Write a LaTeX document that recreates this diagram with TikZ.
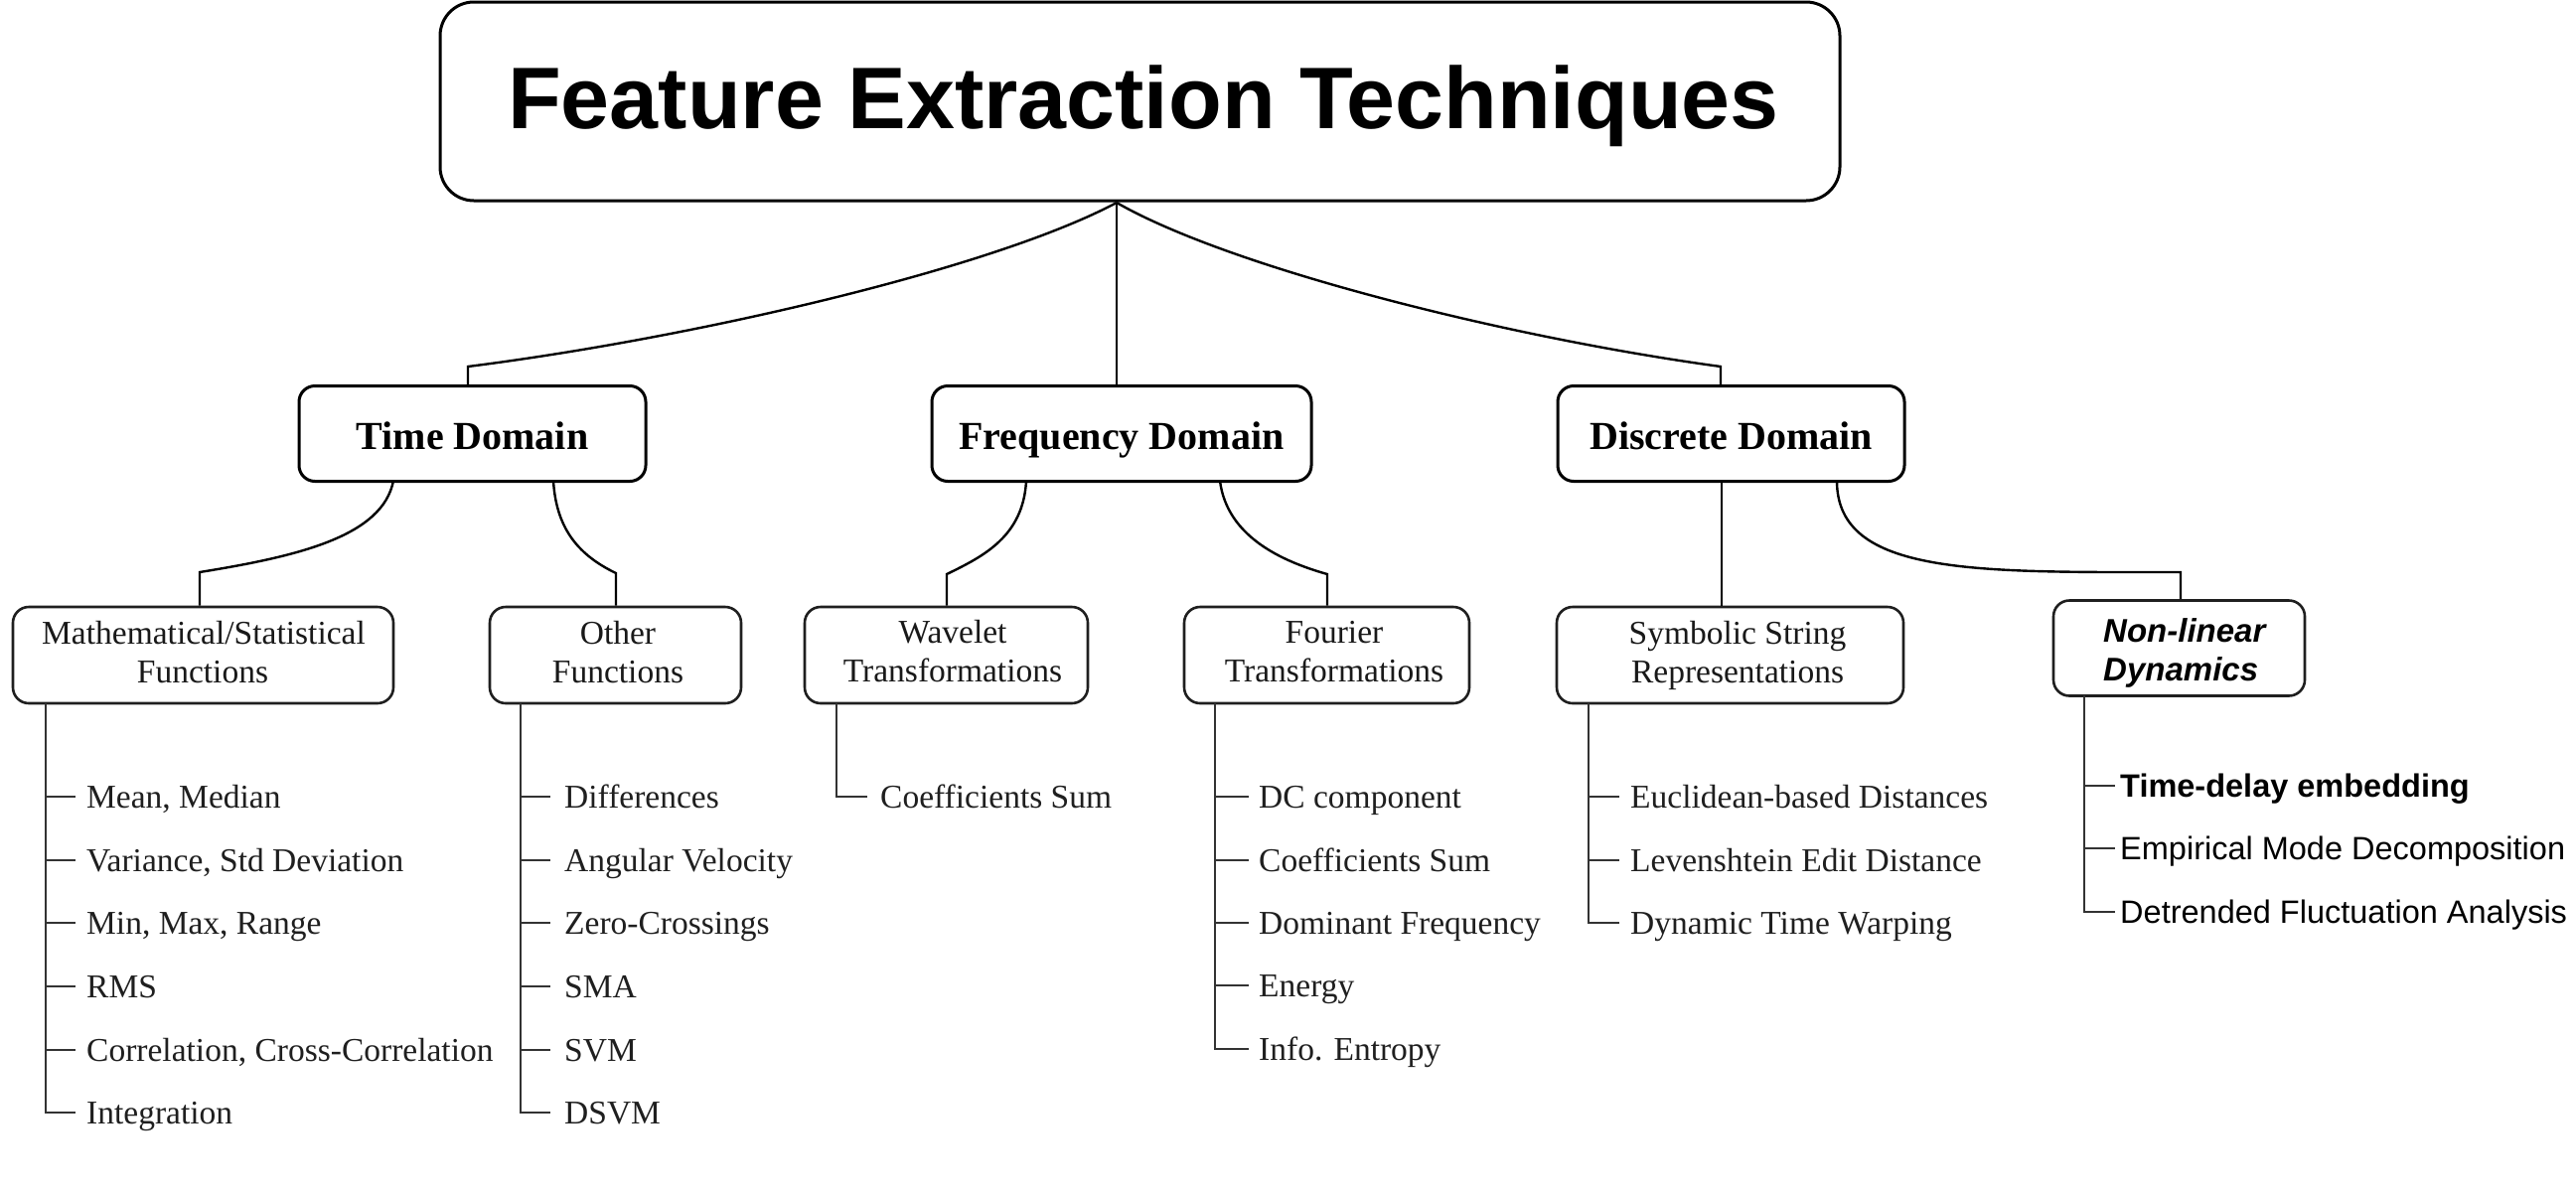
\documentclass[tikz,border=0pt]{standalone}
\usepackage{fontspec}
\setmainfont{Liberation Serif}
\setsansfont{Liberation Sans}
\begin{document}
\begin{tikzpicture}[x=1pt,y=-1pt,
  topbox/.style={draw, line width=3pt, rounded corners=34pt, minimum width=1409pt, minimum height=200pt, inner sep=0pt},
  dombox/.style={draw, line width=3pt, rounded corners=16pt, minimum height=96pt, inner sep=0pt,
     font=\fontsize{40}{48}\selectfont\bfseries, text height=40pt, text depth=9pt},
  subbox/.style={draw=black!88, line width=2.6pt, rounded corners=16pt, minimum height=97pt, inner sep=0pt},
  subtext/.style={anchor=base, inner sep=0pt, font=\fontsize{33.5}{40}\selectfont, text=black!90},
  conn/.style={line width=2.4pt},
  leafline/.style={line width=2.2pt, draw=black!80},
  leafitem/.style={anchor=west, inner xsep=11pt, inner ysep=0pt, font=\fontsize{33.5}{40}\selectfont,
     text height=24pt, text depth=2pt, text=black!88},
  nlitem/.style={leafitem, inner xsep=5pt, font=\fontsize{32.5}{39}\selectfont\sffamily, text=black}
]
\fill[white] (0,0) rectangle (2593,1200);
\useasboundingbox (0,0) rectangle (2593,1200);

% top
\node[topbox] (top) at (1147.5,102) {};
\node[anchor=base, inner sep=0pt, font=\fontsize{88}{100}\selectfont\sffamily\bfseries] (toptext) at (1151,129) {Feature Extraction Techniques};

% domains
\node[dombox, minimum width=349pt] (td) at (475.5,436.5) {Time Domain};
\node[dombox, minimum width=382pt] (fd) at (1129,436.5) {Frequency Domain};
\node[dombox, minimum width=349pt] (dd) at (1742.5,436.5) {Discrete Domain};

% sub boxes
\node[subbox, minimum width=383pt] (ms) at (204.5,659.5) {};
\node[subbox, minimum width=253pt] (of) at (619.5,659.5) {};
\node[subbox, minimum width=285pt] (wt) at (952.5,659.5) {};
\node[subbox, minimum width=287pt] (ft) at (1335.5,659.5) {};
\node[subbox, minimum width=349pt] (ss) at (1741.5,659.5) {};
\node[subbox, minimum width=253pt, minimum height=96pt] (nl) at (2193.5,652.5) {};

\node[subtext] (ms-a) at (205,648) {Mathematical/Statistical};
\node[subtext] (ms-b) at (204,687) {Functions};
\node[subtext] (of-a) at (622,648) {Other};
\node[subtext] (of-b) at (622,687) {Functions};
\node[subtext] (wt-a) at (959,647) {Wavelet};
\node[subtext] (wt-b) at (959,686) {Transformations};
\node[subtext] (ft-a) at (1343,647) {Fourier};
\node[subtext] (ft-b) at (1343,686) {Transformations};
\node[subtext] (ss-a) at (1749,648) {Symbolic String};
\node[subtext] (ss-b) at (1749,687) {Representations};
\node[subtext, anchor=base west, font=\fontsize{33}{40}\selectfont\sffamily\bfseries\itshape, text=black] (nl-a) at (2117,646) {Non-linear};
\node[subtext, anchor=base west, font=\fontsize{33}{40}\selectfont\sffamily\bfseries\itshape, text=black] (nl-b) at (2117,685) {Dynamics};

% connectors top -> domains
\coordinate (apex) at (1124,204);
\coordinate (j1) at (471,369);
\coordinate (j3) at (1732,369);
\draw[conn] (apex) .. controls (1000,270) and (700,340) .. (j1) -- (j1 |- td.north);
\draw[conn, line width=1.8pt] (apex) -- (apex |- fd.north);
\draw[conn] (apex) .. controls (1239,270) and (1519,340) .. (j3) -- (j3 |- dd.north);

% domains -> sub boxes
\coordinate (td-l) at (396,484);
\coordinate (td-r) at (557,484);
\coordinate (k1) at (201,576);
\coordinate (k2) at (620,577);
\draw[conn] (td-l) .. controls (385,540) and (300,560) .. (k1) -- (k1 |- ms.north);
\draw[conn] (td-r) .. controls (560,535) and (585,560) .. (k2) -- (k2 |- of.north);

\coordinate (fd-l) at (1033,484);
\coordinate (fd-r) at (1228,484);
\coordinate (k3) at (953,578);
\coordinate (k4) at (1336,578);
\draw[conn] (fd-l) .. controls (1030,540) and (990,560) .. (k3) -- (k3 |- wt.north);
\draw[conn] (fd-r) .. controls (1235,540) and (1290,565) .. (k4) -- (k4 |- ft.north);

\coordinate (dd-l) at (1733,484);
\coordinate (dd-r) at (1849,484);
\coordinate (k6) at (2195,576);
\draw[conn, line width=2pt] (dd-l) -- (dd-l |- ss.north);
\draw[conn] (dd-r) .. controls (1849,580) and (1990,576) .. (k6) -- (k6 |- nl.north);

% leaves: mathematical / statistical
\node[leafitem] (ms1) at (76,802) {Mean, Median};
\node[leafitem] (ms2) at (76,866) {Variance, Std Deviation};
\node[leafitem] (ms3) at (76,929) {Min, Max, Range};
\node[leafitem] (ms4) at (76,993) {RMS};
\node[leafitem] (ms5) at (76,1057) {Correlation, Cross-Correlation};
\node[leafitem] (ms6) at (76,1120) {Integration};
\coordinate (c1) at (46,708);
\draw[leafline] (c1) |- (ms6.west);
\foreach \n in {ms1,ms2,ms3,ms4,ms5} \draw[leafline] (c1 |- \n.west) -- (\n.west);

% other functions
\node[leafitem, inner xsep=14pt] (of1) at (554,802) {Differences};
\node[leafitem, inner xsep=14pt] (of2) at (554,866) {Angular Velocity};
\node[leafitem, inner xsep=14pt] (of3) at (554,929) {Zero-Crossings};
\node[leafitem, inner xsep=14pt] (of4) at (554,993) {SMA};
\node[leafitem, inner xsep=14pt] (of5) at (554,1057) {SVM};
\node[leafitem, inner xsep=14pt] (of6) at (554,1120) {DSVM};
\coordinate (c2) at (524,708);
\draw[leafline] (c2) |- (of6.west);
\foreach \n in {of1,of2,of3,of4,of5} \draw[leafline] (c2 |- \n.west) -- (\n.west);

% wavelet
\node[leafitem, inner xsep=13pt] (wt1) at (873,802) {Coefficients Sum};
\coordinate (c3) at (842,708);
\draw[leafline] (c3) |- (wt1.west);

% fourier
\node[leafitem, inner xsep=10pt] (ft1) at (1257,802) {DC component};
\node[leafitem, inner xsep=10pt] (ft2) at (1257,866) {Coefficients Sum};
\node[leafitem, inner xsep=10pt] (ft3) at (1257,929) {Dominant Frequency};
\node[leafitem, inner xsep=10pt] (ft4) at (1257,992) {Energy};
\node[leafitem, inner xsep=10pt] (ft5) at (1257,1056) {Info. Entropy};
\coordinate (c4) at (1223,708);
\draw[leafline] (c4) |- (ft5.west);
\foreach \n in {ft1,ft2,ft3,ft4} \draw[leafline] (c4 |- \n.west) -- (\n.west);

% symbolic
\node[leafitem] (ss1) at (1630,802) {Euclidean-based Distances};
\node[leafitem] (ss2) at (1630,866) {Levenshtein Edit Distance};
\node[leafitem] (ss3) at (1630,929) {Dynamic Time Warping};
\coordinate (c5) at (1599,708);
\draw[leafline] (c5) |- (ss3.west);
\foreach \n in {ss1,ss2} \draw[leafline] (c5 |- \n.west) -- (\n.west);

% non-linear
\node[nlitem, font=\fontsize{32.5}{39}\selectfont\sffamily\bfseries] (nl1) at (2129,791) {Time-delay embedding};
\node[nlitem] (nl2) at (2129,854) {Empirical Mode Decomposition};
\node[nlitem] (nl3) at (2129,918) {Detrended Fluctuation Analysis};
\coordinate (c6) at (2098,700);
\draw[leafline] (c6) |- (nl3.west);
\foreach \n in {nl1,nl2} \draw[leafline] (c6 |- \n.west) -- (\n.west);
\end{tikzpicture}
\end{document}
